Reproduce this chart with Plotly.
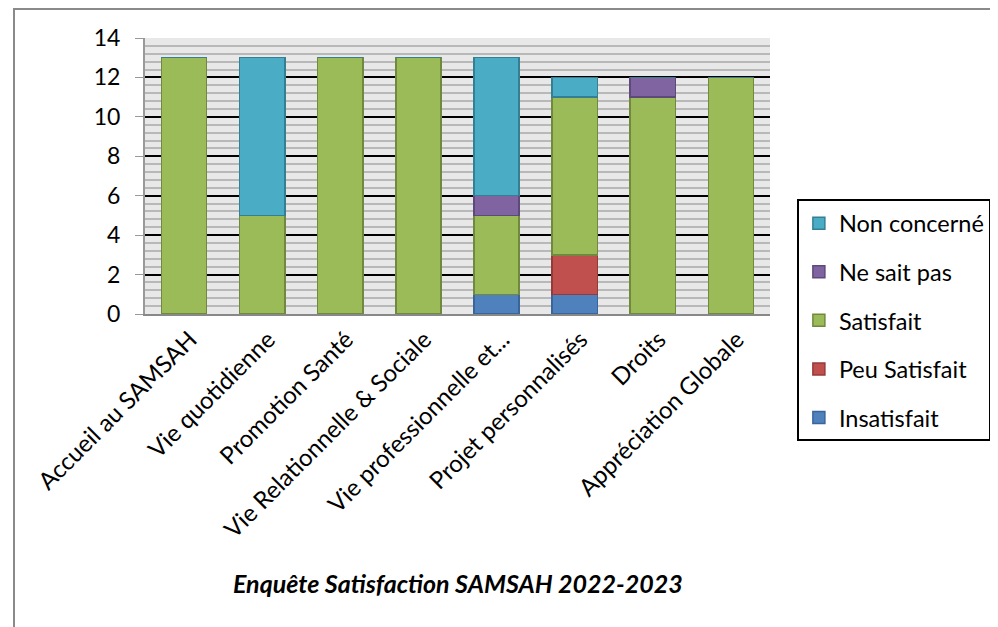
import plotly.graph_objects as go

categories = ["Accueil au SAMSAH", "Vie quotidienne", "Promotion Santé",
              "Vie Relationnelle & Sociale", "Vie professionnelle et...",
              "Projet personnalisés", "Droits", "Appréciation Globale"]

insatisfait = [0, 0, 0, 0, 1, 1, 0, 0]
peu_satisfait = [0, 0, 0, 0, 0, 2, 0, 0]
satisfait = [13, 5, 13, 13, 4, 8, 11, 12]
ne_sait_pas = [0, 0, 0, 0, 1, 0, 1, 0]
non_concerne = [0, 8, 0, 0, 7, 1, 0, 0]

series = [
    ("Insatisfait", insatisfait, "#4F81BD", "#3A659A", 5),
    ("Peu Satisfait", peu_satisfait, "#C0504D", "#943B39", 4),
    ("Satisfait", satisfait, "#9BBB59", "#71893F", 3),
    ("Ne sait pas", ne_sait_pas, "#8064A2", "#5E4A7A", 2),
    ("Non concerné", non_concerne, "#4BACC6", "#357F93", 1),
]

FONT = "Lato, Carlito, Calibri, sans-serif"

fig = go.Figure()
for name, vals, col, line, rank in series:
    fig.add_trace(go.Bar(
        x=categories, y=vals, name=name, legendgroup=name, legendrank=rank,
        marker=dict(color=col, line=dict(color=line, width=1.5)),
    ))

fig.update_layout(
    width=990, height=619,
    barmode="stack", bargap=0.42,
    margin=dict(l=137, r=228, t=30, b=313, autoexpand=False),
    paper_bgcolor="white", plot_bgcolor="#e8e8e8",
    font=dict(family=FONT, size=22, color="black"),
    showlegend=True,
    legend=dict(
        x=1.043, y=0.415, xanchor="left", yanchor="top",
        traceorder="grouped", tracegroupgap=15,
        bordercolor="black", borderwidth=2, bgcolor="white",
        font=dict(family=FONT, size=23.5),
    ),
    xaxis=dict(
        tickangle=-45, showline=True, linecolor="#888888", linewidth=2,
        ticks="", tickfont=dict(family=FONT, size=24), ticklabelshift=6,
        automargin=False,
    ),
    yaxis=dict(
        range=[0, 14], dtick=2, showline=True, linecolor="#999999", linewidth=2,
        ticks="outside", tickcolor="#999999", ticklen=8, ticklabelstandoff=10,
        gridcolor="black", gridwidth=1.5,
        minor=dict(dtick=0.4, showgrid=True, gridcolor="#b8b8b8", gridwidth=2),
        tickfont=dict(family=FONT, size=23),
        zeroline=False, automargin=False,
    ),
    annotations=[dict(
        text="<b><i>Enquête Satisfaction SAMSAH 2022-2023</i></b>",
        x=0.5, y=-0.975, xref="paper", yref="paper",
        xanchor="center", yanchor="middle", showarrow=False,
        font=dict(family=FONT, size=25),
    )],
    shapes=[dict(
        type="rect", xref="paper", yref="paper",
        x0=-0.2096, x1=1.5, y0=-1.5, y1=1.105,
        line=dict(color="#8a8a8a", width=2), fillcolor="rgba(0,0,0,0)",
        layer="below",
    )],
)

fig.write_html("out.html")
